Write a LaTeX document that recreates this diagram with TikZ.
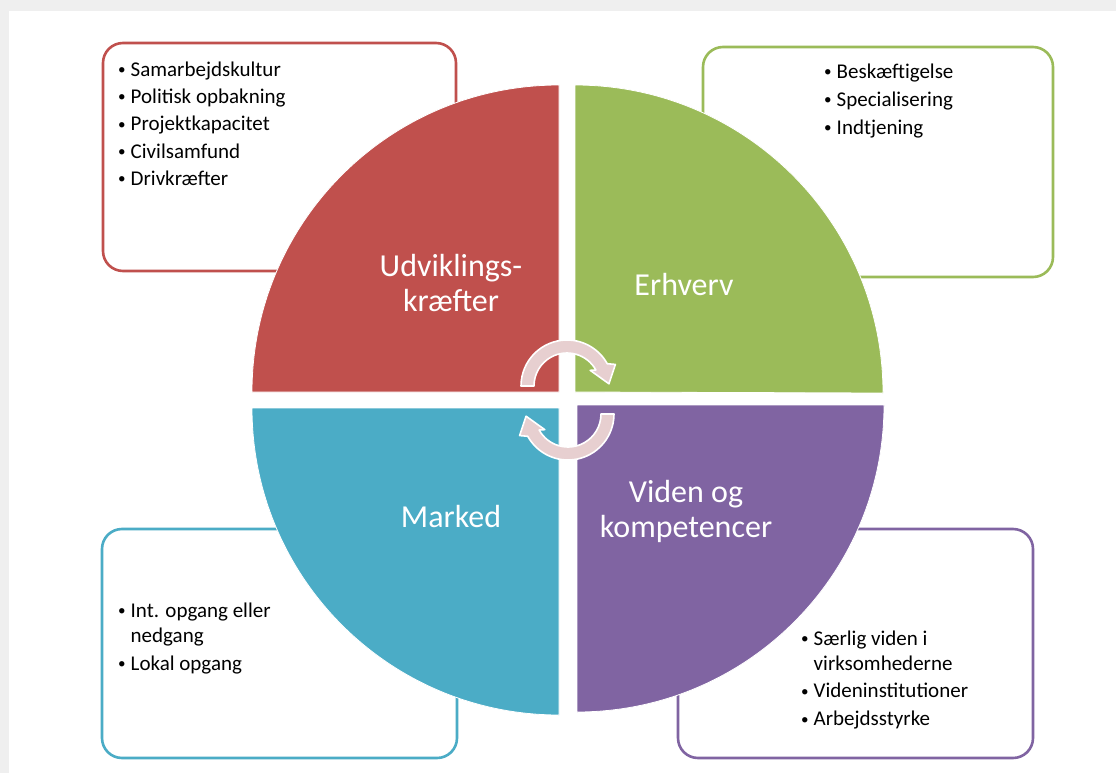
\documentclass[tikz,border=0pt]{standalone}
\usepackage{fontspec}
\setmainfont{Carlito}
\definecolor{cred}{HTML}{C0504D}
\definecolor{cgreen}{HTML}{9BBB59}
\definecolor{cblue}{HTML}{4BACC6}
\definecolor{cpurple}{HTML}{8064A2}
\definecolor{carrow}{HTML}{E7CFD0}
\definecolor{cpage}{HTML}{EFEFEF}
\tikzset{
  infobox/.style={draw=#1, line width=2.6pt, rounded corners=20pt, fill=white},
  quad/.style={fill=#1, draw=white, line width=0.8pt},
  biglabel/.style={text=white, font=\fontsize{32}{35}\selectfont, align=center, inner sep=0pt},
  bullets/.style={anchor=north west, align=left, inner sep=0pt, font=\fontsize{21}{25}\selectfont},
  cyclearrow/.style={fill=carrow, draw=white, line width=1.6pt, line join=round}
}
\newcommand{\bitem}[1]{\makebox[12.5pt][l]{\raisebox{1.6pt}{\scalebox{0.72}{•}}}#1}
\newcommand{\bcont}[1]{\hspace*{12.5pt}#1}
\begin{document}
\begin{tikzpicture}[x=1pt,y=-1pt]
  % page
  \fill[cpage] (0,0) rectangle (1116,773);
  \fill[white] (9,11) rectangle (1116,773);
  \useasboundingbox (0,0) rectangle (1116,773);

  % boxes
  \draw[infobox=cred] (103,43) rectangle (456,271);
  \draw[infobox=cgreen] (703,47) rectangle (1053,277);
  \draw[infobox=cblue] (102,529) rectangle (457,758);
  \draw[infobox=cpurple] (678,529) rectangle (1033,758);

  % quadrants
  \path[quad=cred] (559,392) -- (252,392) arc[start angle=180, end angle=270, radius=307] -- cycle;
  \path[quad=cgreen] (575,392) -- (575,85) arc[start angle=270, end angle=360, radius=308] -- cycle;
  \path[quad=cblue] (559,408) -- (559,715) arc[start angle=90, end angle=180, radius=307] -- cycle;
  \path[quad=cpurple] (577,405) -- (884,405) arc[start angle=0, end angle=90, radius=307] -- cycle;

  % cycle arrows
  \begin{scope}[shift={(567,386)}]
    \path[cyclearrow] (180:46) arc[start angle=180, end angle=331, radius=46]
      -- (336:53) -- (357:42) -- (326:28) -- (331:33)
      arc[start angle=331, end angle=180, radius=33] -- cycle;
  \end{scope}
  \begin{scope}[shift={(568,414)}, rotate=180]
    \path[cyclearrow] (180:46) arc[start angle=180, end angle=331, radius=46]
      -- (336:53) -- (357:42) -- (326:28) -- (331:33)
      arc[start angle=331, end angle=180, radius=33] -- cycle;
  \end{scope}

  % big labels
  \node[biglabel] (udv) at (451,283) {Udviklings-\\kræfter};
  \node[biglabel] (erh) at (684,284) {Erhverv};
  \node[biglabel] (mar) at (451,517) {Marked};
  \node[biglabel] (vid) at (686,511) {Viden og\\kompetencer};

  % bullet texts
  \node[bullets] (tred) at (118,58.5) {\strut\bitem{Samarbejdskultur}\\[2.3pt]
    \bitem{Politisk opbakning}\\[2.3pt]
    \bitem{Projektkapacitet}\\[2.3pt]
    \bitem{Civilsamfund}\\[2.3pt]
    \bitem{Drivkræfter}};
  \node[bullets] (tgreen) at (824,60.5) {\strut\bitem{Beskæftigelse}\\[3pt]
    \bitem{Specialisering}\\[3pt]
    \bitem{Indtjening}};
  \node[bullets] (tblue) at (118,599.5) {\strut\bitem{Int. opgang eller}\\
    \bcont{nedgang}\\[3pt]
    \bitem{Lokal opgang}};
  \node[bullets] (tpurple) at (801,627.5) {\strut\bitem{Særlig viden i}\\
    \bcont{virksomhederne}\\[2.5pt]
    \bitem{Videninstitutioner}\\[3pt]
    \bitem{Arbejdsstyrke}};
\end{tikzpicture}
\end{document}
